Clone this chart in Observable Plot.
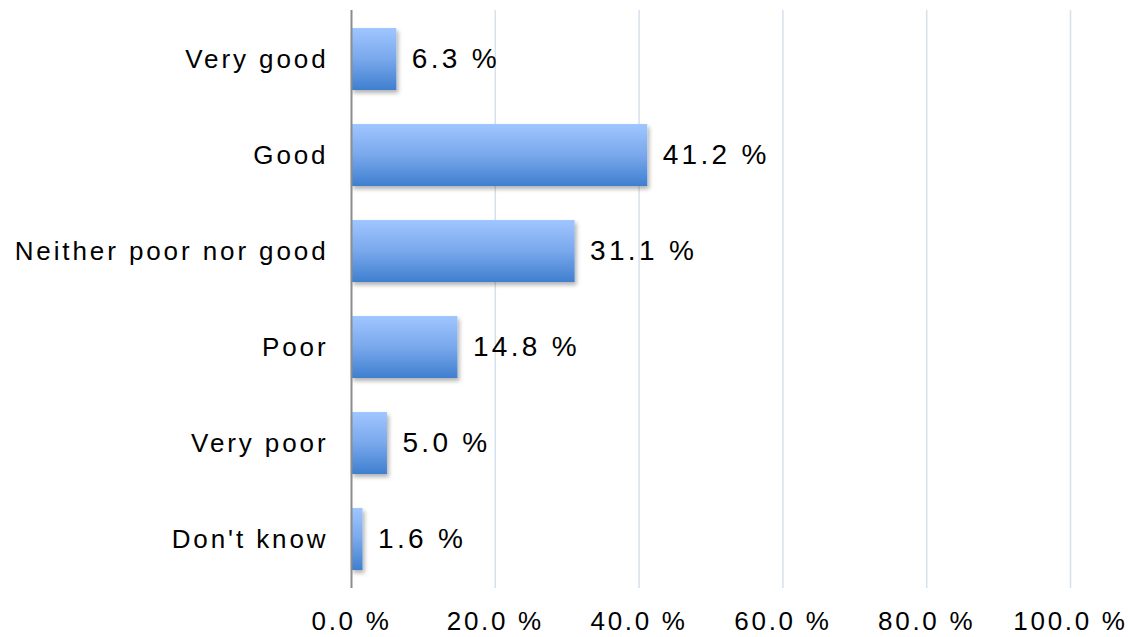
<!DOCTYPE html>
<html><head><meta charset="utf-8">
<script src="https://cdn.jsdelivr.net/npm/d3@7"></script>
<script src="https://cdn.jsdelivr.net/npm/@observablehq/plot@0.6"></script>
<style>
body{margin:0;background:#fff;}
svg{font-family:"Liberation Sans",Arial,sans-serif;}
</style>
</head><body>
<div id="chart"></div>
<script>
const categories = ["Very good","Good","Neither poor nor good","Poor","Very poor","Don't know"];
const values = [6.3, 41.2, 31.1, 14.8, 5.0, 1.6];
const tickValues = [0,20,40,60,80,100];

const data = categories.map((c,i)=>({category:c, value:values[i]}));
const fmt = v => v.toFixed(1) + " %";

const defs = () => {
  const ns = "http://www.w3.org/2000/svg";
  const d = document.createElementNS(ns,"defs");
  d.innerHTML = `<linearGradient id="barGrad" x1="0" y1="0" x2="0" y2="1">
      <stop offset="0" stop-color="#a0c6ff"/>
      <stop offset="0.5" stop-color="#79a8ec"/>
      <stop offset="1" stop-color="#3f7fcf"/>
    </linearGradient>
    <filter id="shadow" x="-20%" y="-20%" width="150%" height="150%">
      <feDropShadow dx="2" dy="3" stdDeviation="2.2" flood-color="#000" flood-opacity="0.3"/>
    </filter>`;
  return d;
};

const chart = Plot.plot({
  width: 1128,
  height: 637,
  marginLeft: 351,
  marginRight: 58,
  marginTop: 10,
  marginBottom: 49,
  style: {fontSize: "26px", fontFamily: "Liberation Sans, Arial, sans-serif", color:"#000", background:"#fff"},
  x: {domain:[0,100], ticks: tickValues, tickFormat: fmt, label: null},
  y: {domain: categories, padding: 0, label: null},
  marks: [
    defs,
    Plot.ruleX(tickValues.filter(t=>t>0), {stroke:"#d6e1ee", strokeWidth:1.5}),
    Plot.barX(data, {x:"value", y:"category", fill:"url(#barGrad)", insetTop:17, insetBottom:17}),
    Plot.ruleX([0], {stroke:"#8c8c8c", strokeWidth:2}),
    Plot.text(data, {x:"value", y:"category", text: d=>fmt(d.value), textAnchor:"start", dx:15, fontSize:28, fill:"#000", className:"vlab"}),
    Plot.axisX({ticks: tickValues, tickFormat: fmt, tickSize:0, tickPadding:23, fontSize:26, label:null, className:"xlab"}),
    Plot.axisY({tickSize:0, tickPadding:23, fontSize:26, label:null, className:"ylab"})
  ]
});
chart.querySelectorAll(".vlab text").forEach(t=>t.style.letterSpacing="3.3px");
chart.querySelectorAll(".xlab text").forEach(t=>t.style.letterSpacing="2.7px");
chart.querySelectorAll(".ylab text").forEach(t=>t.style.letterSpacing="2.9px");
const bars = chart.querySelector('g[aria-label="bar"]');
if (bars) bars.setAttribute("filter","url(#shadow)");
document.getElementById("chart").appendChild(chart);
</script>
</body></html>
